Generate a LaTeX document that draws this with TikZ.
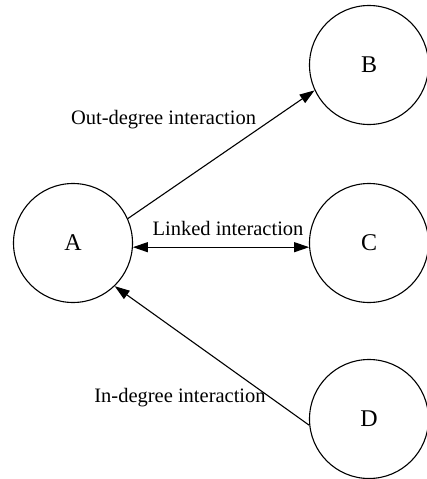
\documentclass[tikz,border=0pt]{standalone}
\usepackage{fontspec}
\setmainfont{Liberation Serif}
\usetikzlibrary{arrows.meta}
\begin{document}
\begin{tikzpicture}[x=1pt,y=-1pt,
  vertex/.style={circle,draw,line width=1.1pt,minimum size=119pt,inner sep=0pt,font=\fontsize{24}{28}\selectfont},
  conn/.style={line width=1.1pt,-{Triangle[length=15pt,width=10pt]}},
  lbl/.style={font=\fontsize{20.5}{24}\selectfont,inner sep=0pt}]
\useasboundingbox (0,0) rectangle (426,479);
\node[vertex] (A) at (73,243) {A};
\node[vertex] (B) at (369,65) {B};
\node[vertex] (C) at (369,243) {C};
\node[vertex] (D) at (369,419) {D};
\draw[conn] (A.24) -- (B.205);
\draw[conn,{Triangle[length=15pt,width=10pt]}-{Triangle[length=15pt,width=10pt]}] (A.-4) -- (C.184);
\draw[conn] (D.186) -- (A.-46);
\node[lbl] (l1) at (163.5,120) {Out-degree interaction};
\node[lbl] (l2) at (228,228) {Linked interaction};
\node[lbl] (l3) at (180,398) {In-degree interaction};
\end{tikzpicture}
\end{document}
